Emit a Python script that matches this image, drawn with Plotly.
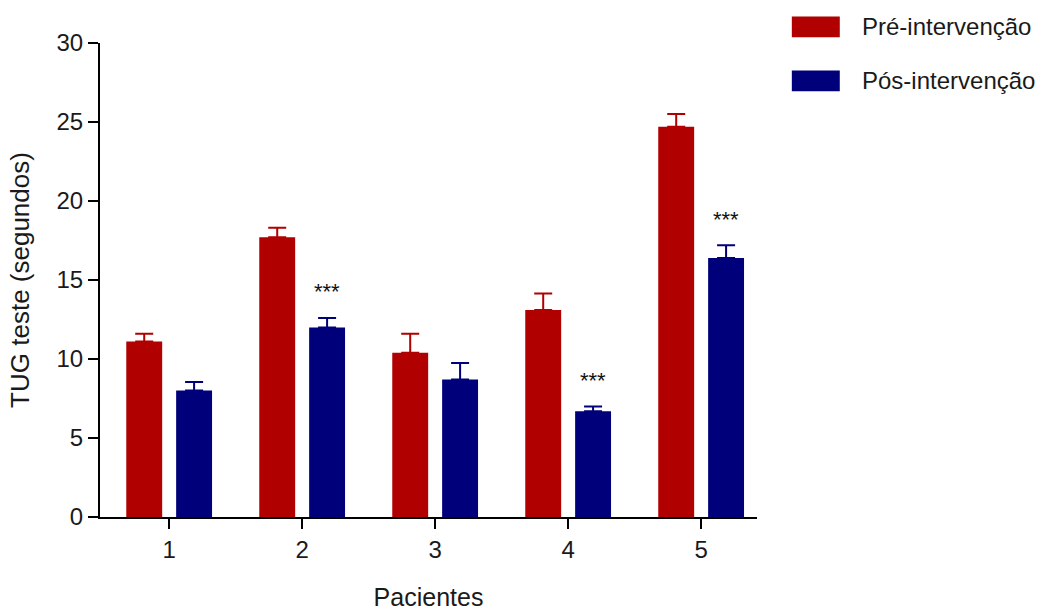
import plotly.graph_objects as go

# TUG test times (seconds) per patient, before and after the intervention
pacientes = [1, 2, 3, 4, 5]
series_names = ["Pré-intervenção", "Pós-intervenção"]
pre_valores = [11.1, 17.7, 10.4, 13.1, 24.7]
pre_erros = [0.5, 0.6, 1.2, 1.05, 0.8]
pos_valores = [8.0, 12.0, 8.7, 6.7, 16.4]
pos_erros = [0.55, 0.6, 1.05, 0.3, 0.8]
# significance marks shown above the post-intervention bars
significancia = ["", "***", "", "***", "***"]

y_ticks = [0, 5, 10, 15, 20, 25, 30]

COR_PRE = "#B00000"
COR_POS = "#00007A"
FONTE = "Liberation Sans, Arial, sans-serif"
BARGAP = 0.25
BARGROUPGAP = 0.28

fig = go.Figure()

fig.add_trace(go.Bar(
    x=pacientes, y=pre_valores, name=series_names[0],
    marker=dict(color=COR_PRE, line=dict(width=0)),
    error_y=dict(type="data", symmetric=False, array=pre_erros,
                 arrayminus=[0] * len(pre_erros),
                 color=COR_PRE, thickness=2, width=9),
    showlegend=False,
))
fig.add_trace(go.Bar(
    x=pacientes, y=pos_valores, name=series_names[1],
    marker=dict(color=COR_POS, line=dict(width=0)),
    error_y=dict(type="data", symmetric=False, array=pos_erros,
                 arrayminus=[0] * len(pos_erros),
                 color=COR_POS, thickness=2, width=9),
    showlegend=False,
))

# "***" above the post-intervention bars (offset of the second bar in each group)
desloc = (1 - BARGAP) / 4
for p, v, e, s in zip(pacientes, pos_valores, pos_erros, significancia):
    if s:
        fig.add_annotation(
            x=p + desloc, y=v + e, text=s, showarrow=False,
            xanchor="center", yanchor="middle", yshift=26,
            font=dict(family=FONTE, size=22, color="#111111"),
        )

# legend drawn as swatches + labels to the right of the plot
legenda = [(series_names[0], COR_PRE, 1.034), (series_names[1], COR_POS, 0.920)]
for nome, cor, yc in legenda:
    fig.add_shape(type="rect", xref="paper", yref="paper",
                  x0=1.053, x1=1.126, y0=yc - 0.022, y1=yc + 0.022,
                  fillcolor=cor, line=dict(width=0))
    fig.add_annotation(xref="paper", yref="paper", x=1.157, y=yc,
                       text=nome, showarrow=False, xanchor="left",
                       yanchor="middle",
                       font=dict(family=FONTE, size=24, color="#1a1a1a"))

fig.update_layout(
    width=1043, height=613,
    margin=dict(l=100, r=286, t=43, b=96),
    paper_bgcolor="white", plot_bgcolor="white",
    barmode="group", bargap=BARGAP, bargroupgap=BARGROUPGAP,
    font=dict(family=FONTE, size=24, color="#1a1a1a"),
)

fig.update_xaxes(
    range=[0.48, 5.42], tickmode="array", tickvals=pacientes,
    ticktext=[str(p) for p in pacientes],
    showline=True, linecolor="black", linewidth=2,
    ticks="outside", ticklen=10, tickwidth=2, tickcolor="black",
    showgrid=False, zeroline=False, automargin=False,
    title=dict(text="Pacientes", standoff=27,
               font=dict(family=FONTE, size=25)),
    tickfont=dict(family=FONTE, size=24),
)
fig.update_yaxes(
    range=[0, 30], tickmode="array", tickvals=y_ticks,
    showline=True, linecolor="black", linewidth=2,
    ticks="outside", ticklen=10, tickwidth=2, tickcolor="black",
    showgrid=False, zeroline=False, automargin=False,
    title=dict(text="TUG teste (segundos)", standoff=19,
               font=dict(family=FONTE, size=26)),
    tickfont=dict(family=FONTE, size=24),
)

fig.write_html("out.html")
